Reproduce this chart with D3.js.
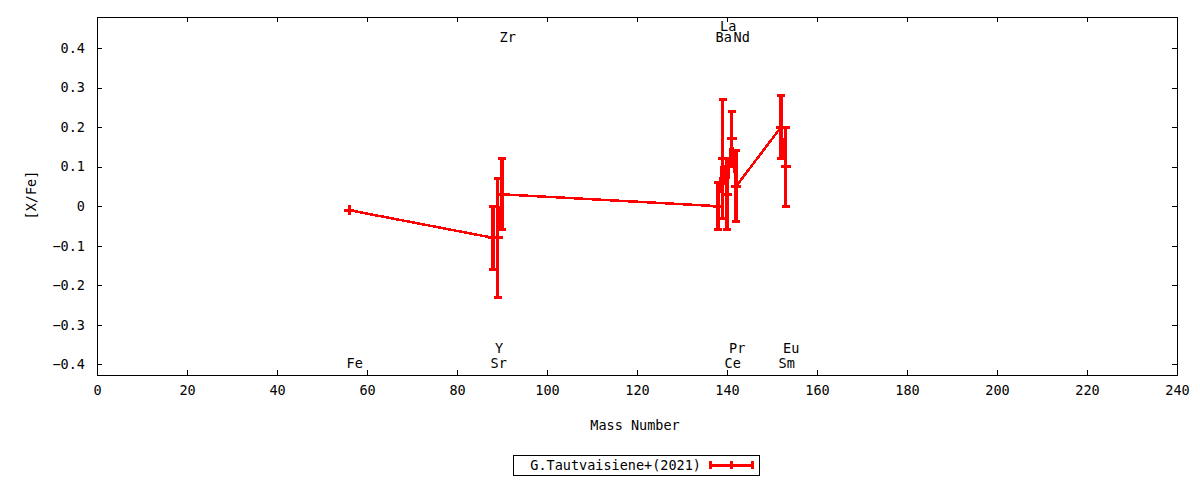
<!DOCTYPE html>
<html>
<head>
<meta charset="utf-8">
<script src="https://cdn.jsdelivr.net/npm/d3@7"></script>
<style>
  html, body { margin: 0; padding: 0; background: #fff; }
  svg text { font-family: "DejaVu Sans Mono", monospace; font-size: 13.5px; fill: #000; }
</style>
</head>
<body>
<svg id="chart" width="1200" height="480"></svg>
<script>
// element data, ordered by mass number
const elements = ['Fe', 'Sr', 'Y', 'Zr', 'Ba', 'La', 'Ce', 'Pr', 'Nd', 'Sm', 'Eu'];
const massNumbers = [56, 88, 89, 90, 138, 139, 140, 141, 142, 152, 153];
const abundances = [-0.01, -0.08, -0.08, 0.03, 0.00, 0.12, 0.03, 0.17, 0.05, 0.20, 0.10];
const errors = [0.00, 0.08, 0.15, 0.09, 0.06, 0.15, 0.09, 0.07, 0.09, 0.08, 0.10];
// where each element name is written: 'bottom'/'top' band and stacking level
const labelSide = ['bottom', 'bottom', 'bottom', 'top', 'top', 'top', 'bottom', 'bottom', 'top', 'bottom', 'bottom'];
const labelLevel = [0, 0, 1, 0, 0, 1, 0, 1, 0, 0, 1];

const xTicks = [0, 20, 40, 60, 80, 100, 120, 140, 160, 180, 200, 220, 240];
const yTicks = [-0.4, -0.3, -0.2, -0.1, 0, 0.1, 0.2, 0.3, 0.4];
const seriesName = 'G.Tautvaisiene+(2021)';

const svg = d3.select('#chart');
const L = 97, R = 1177, T = 17, B = 375;
const RED = '#ff0000';

const x = d3.scaleLinear().domain([0, 240]).range([L, R]);
const y = d3.scaleLinear().domain([-0.427, 0.4785]).range([B, T]);

const data = elements.map((el, i) => ({
  el, m: massNumbers[i], v: abundances[i], e: errors[i],
  side: labelSide[i], level: labelLevel[i]
}));

// axes with inward ticks, mirrored on top/right
const g = svg.append('g');
const tick = 5;
g.append('g').attr('transform', `translate(0,${B})`)
  .call(d3.axisBottom(x).tickValues(xTicks).tickSizeInner(-tick).tickSizeOuter(0).tickPadding(10).tickFormat(d3.format('d')))
  .call(a => a.select('.domain').remove());
g.append('g').attr('transform', `translate(0,${T})`)
  .call(d3.axisTop(x).tickValues(xTicks).tickSizeInner(-tick).tickSizeOuter(0).tickFormat(''))
  .call(a => a.select('.domain').remove());
g.append('g').attr('transform', `translate(${L},0)`)
  .call(d3.axisLeft(y).tickValues(yTicks).tickSizeInner(-tick).tickSizeOuter(0).tickPadding(12)
    .tickFormat(d => d === 0 ? '0' : d3.format('.1f')(d)))
  .call(a => a.select('.domain').remove());
g.append('g').attr('transform', `translate(${R},0)`)
  .call(d3.axisRight(y).tickValues(yTicks).tickSizeInner(-tick).tickSizeOuter(0).tickFormat(''))
  .call(a => a.select('.domain').remove());
g.selectAll('.tick line').attr('stroke', '#000').attr('shape-rendering', 'crispEdges');
g.selectAll('text').attr('font-family', null).attr('font-size', null);
g.selectAll('g').attr('font-family', null).attr('font-size', null);

svg.append('rect')
  .attr('x', L + 0.5).attr('y', T + 0.5).attr('width', R - L).attr('height', B - T)
  .attr('fill', 'none').attr('stroke', '#000').attr('stroke-width', 1)
  .attr('shape-rendering', 'crispEdges');

// axis titles
svg.append('text').attr('x', 635).attr('y', 430).attr('text-anchor', 'middle').text('Mass Number');
svg.append('text').attr('transform', 'translate(36,195) rotate(-90)').attr('text-anchor', 'middle').text('[X/Fe]');

// element labels
const labelOffset = { bottom: [368, -15], top: [42, -11] };
svg.append('g').selectAll('text').data(data).join('text')
  .attr('x', d => x(d.m) - 2.5)
  .attr('y', d => labelOffset[d.side][0] + labelOffset[d.side][1] * d.level)
  .text(d => d.el);

// series
const plot = svg.append('g').attr('shape-rendering', 'crispEdges');
plot.append('path').datum(data)
  .attr('fill', 'none').attr('stroke', RED).attr('stroke-width', 2.5)
  .attr('d', d3.line().x(d => x(d.m)).y(d => y(d.v)));

const bars = plot.append('g').selectAll('g').data(data).join('g');
const capW = 4;
bars.append('line')
  .attr('x1', d => x(d.m)).attr('x2', d => x(d.m))
  .attr('y1', d => y(d.v - d.e)).attr('y2', d => y(d.v + d.e))
  .attr('stroke', RED).attr('stroke-width', 3.5);
bars.append('line')
  .attr('x1', d => x(d.m) - capW).attr('x2', d => x(d.m) + capW)
  .attr('y1', d => y(d.v + d.e)).attr('y2', d => y(d.v + d.e))
  .attr('stroke', RED).attr('stroke-width', 3);
bars.append('line')
  .attr('x1', d => x(d.m) - capW).attr('x2', d => x(d.m) + capW)
  .attr('y1', d => y(d.v - d.e)).attr('y2', d => y(d.v - d.e))
  .attr('stroke', RED).attr('stroke-width', 3);
// plus point marker
bars.append('path')
  .attr('d', d => `M${x(d.m) - 5},${y(d.v)}H${x(d.m) + 5}M${x(d.m)},${y(d.v) - 5}V${y(d.v) + 5}`)
  .attr('stroke', RED).attr('stroke-width', 3).attr('fill', 'none');

// legend
const lg = svg.append('g');
lg.append('rect').attr('x', 513.5).attr('y', 455.5).attr('width', 246).attr('height', 20)
  .attr('fill', 'none').attr('stroke', '#000').attr('shape-rendering', 'crispEdges');
lg.append('text').attr('x', 701).attr('y', 470).attr('text-anchor', 'end').text(seriesName);
const ly = 465, lx1 = 710, lx2 = 752;
lg.append('path')
  .attr('d', `M${lx1},${ly}H${lx2}M${lx1},${ly - 4}V${ly + 4}M${lx2},${ly - 4}V${ly + 4}M${(lx1 + lx2) / 2},${ly - 4}V${ly + 4}`)
  .attr('stroke', RED).attr('stroke-width', 3).attr('fill', 'none').attr('shape-rendering', 'crispEdges');
</script>
</body>
</html>
